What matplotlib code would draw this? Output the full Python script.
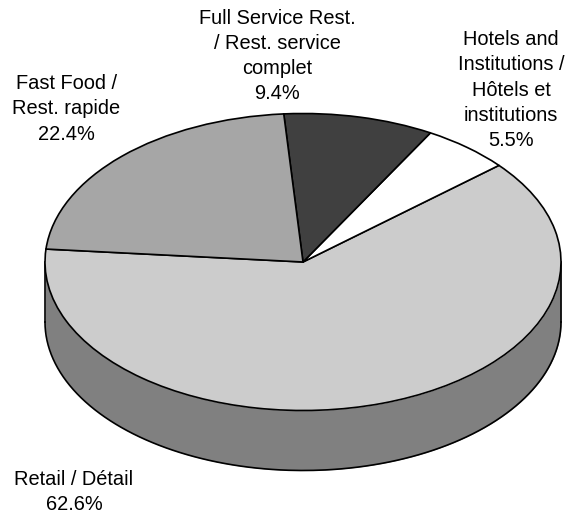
import numpy as np
import matplotlib
matplotlib.use("Agg")
import matplotlib.pyplot as plt

labels = ["Retail / Détail\n62.6%",
          "Hotels and\nInstitutions /\nHôtels et\ninstitutions\n5.5%",
          "Full Service Rest.\n/ Rest. service\ncomplet\n9.4%",
          "Fast Food /\nRest. rapide\n22.4%"]
values = [62.6, 5.5, 9.4, 22.4]
colors = ["#cccccc", "#ffffff", "#404040", "#a6a6a6"]
side_color = "#808080"
label_px = [(74, 492), (511, 90), (277, 56), (66, 109)]

W, H = 565, 512
cx, cy, a, b, depth = 303.0, 262.0, 258.0, 148.5, 60.0
start = 175.0

plt.rcParams["font.family"] = ["Liberation Sans", "DejaVu Sans"]
fig = plt.figure(figsize=(W / 100, H / 100), dpi=100)
ax = fig.add_axes([0, 0, 1, 1])

ax.pie(values, startangle=start, colors=colors, radius=1, normalize=True,
       wedgeprops=dict(edgecolor="black", linewidth=1.2, zorder=3))
ax.set_aspect("auto")
ax.set_xlim(-cx / a, (W - cx) / a)
ax.set_ylim((cy - H) / b, cy / b)
ax.axis("off")

# front wall of the cylinder
t = np.radians(np.linspace(180, 360, 200))
x = np.cos(t)
y = np.sin(t)
d = depth / b
ax.fill_between(x, y - d, y, color=side_color, zorder=1, linewidth=0)
ax.plot(x, y - d, color="black", lw=1.2, zorder=2)
ax.plot([-1, -1], [0, -d], color="black", lw=1.2, zorder=2)
ax.plot([1, 1], [0, -d], color="black", lw=1.2, zorder=2)

for s, (px, py) in zip(labels, label_px):
    ax.text((px - cx) / a, (cy - py) / b, s, ha="center", va="center",
            fontsize=14.4, linespacing=1.42, color="black", zorder=5)

fig.savefig("out.png", dpi=100)
